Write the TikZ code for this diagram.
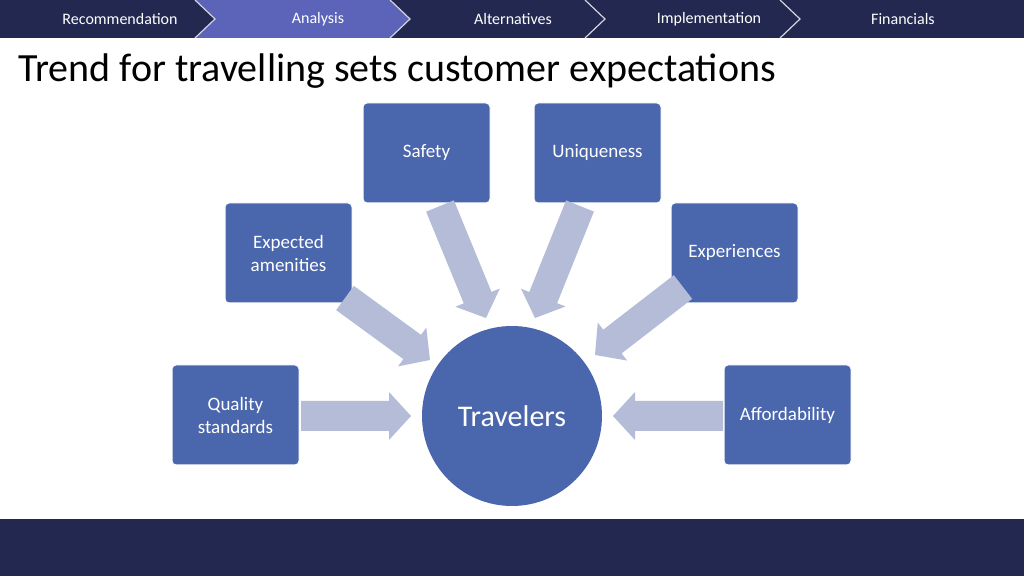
\documentclass[tikz,border=0pt]{standalone}
\usepackage{fontspec}
\setmainfont{Carlito}
\usetikzlibrary{calc}

\definecolor{navy}{HTML}{232850}
\definecolor{tabon}{HTML}{5B64B8}
\definecolor{boxblue}{HTML}{4A66AC}
\definecolor{arrowgrey}{HTML}{B4BCD8}

\tikzset{
  box/.style={rectangle,rounded corners=2pt,fill=boxblue,draw=white,line width=0.5pt,
    minimum width=63.5pt,minimum height=50pt,text=white,font=\fontsize{9.5}{11.5}\selectfont,
    align=center},
  hub/.style={circle,fill=boxblue,minimum size=90pt,text=white,font=\fontsize{15}{18}\selectfont},
  tab/.style={text=white,font=\fontsize{8}{10}\selectfont}
}
\newcommand{\blockarrow}[2]{%
  \path let \p1=($(#2)-(#1)$), \n1={atan2(\y1,\x1)}, \n2={veclen(\x1,\y1)} in
    [fill=arrowgrey,shift={(#1)},rotate=\n1]
    (0pt,-7.5pt) -- (\n2-11pt,-7.5pt) -- (\n2-11pt,-12pt) -- (\n2,0pt)
    -- (\n2-11pt,12pt) -- (\n2-11pt,7.5pt) -- (0pt,7.5pt) -- cycle;}

\begin{document}
\begin{tikzpicture}[x=0.5pt,y=-0.5pt]
  \useasboundingbox (0,0) rectangle (1024,576);
  \fill[white] (0,0) rectangle (1024,576);
  % header tabs
  \fill[navy] (0,0) rectangle (1024,38);
  \fill[tabon] (195,0) -- (390,0) -- (410,19) -- (390,38) -- (195,38) -- (215,19) -- cycle;
  \foreach \t in {195,390,585,780}
    \draw[white!80!navy,line width=0.6pt] (\t,0) -- (\t+20,19) -- (\t,38);
  \node[tab] (t1) at (120,19) {Recommendation};
  \node[tab] (t2) at (318,19) {Analysis};
  \node[tab] (t3) at (513,19) {Alternatives};
  \node[tab] (t4) at (709,19) {Implementation};
  \node[tab] (t5) at (903,19) {Financials};
  % footer
  \fill[navy] (0,519) rectangle (1024,576);
  % title
  \node[anchor=base west,font=\fontsize{20}{24}\selectfont,inner sep=0] (title) at (18,82)
    {Trend for travelling sets customer expectations};
  % diagram
  \node[hub] (hub) at (512,416) {Travelers};
  \node[box] (safe) at (426.5,153) {Safety};
  \node[box] (uniq) at (597.5,153) {Uniqueness};
  \node[box] (amen) at (288.5,253) {Expected\\amenities};
  \node[box] (expe) at (734.5,253) {Experiences};
  \node[box] (qual) at (235.5,415) {Quality\\standards};
  \node[box] (affo) at (787.5,415) {Affordability};
  \coordinate (q1) at (301,416); \coordinate (q2) at (411,416);
  \coordinate (a1) at (723,416); \coordinate (a2) at (613,416);
  \coordinate (s1) at (440,206); \coordinate (s2) at (486,318);
  \coordinate (u1) at (580,206); \coordinate (u2) at (535,318);
  \coordinate (m1) at (345,298); \coordinate (m2) at (430,360);
  \coordinate (e1) at (683,287); \coordinate (e2) at (595,355);
  \blockarrow{q1}{q2}
  \blockarrow{a1}{a2}
  \blockarrow{s1}{s2}
  \blockarrow{u1}{u2}
  \blockarrow{m1}{m2}
  \blockarrow{e1}{e2}
\end{tikzpicture}
\end{document}
